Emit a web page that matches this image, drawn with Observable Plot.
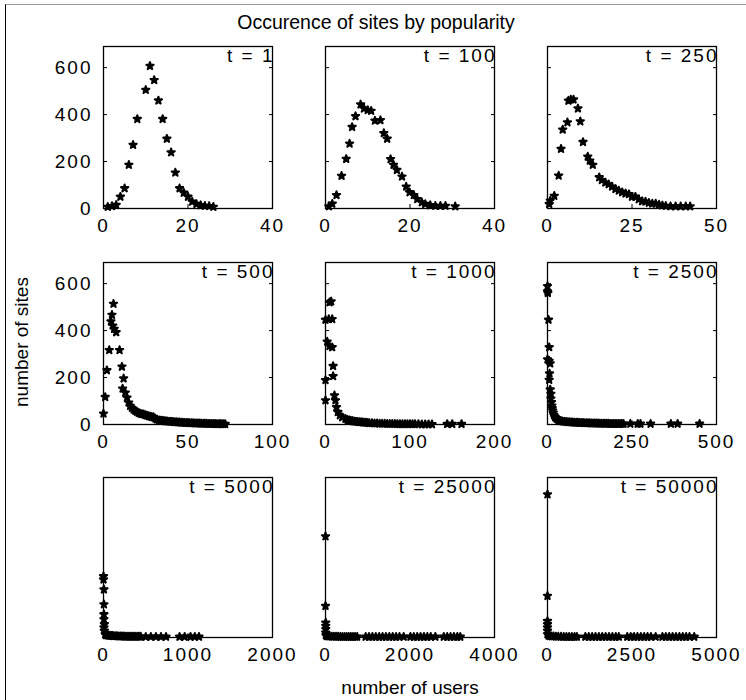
<!DOCTYPE html>
<html>
<head>
<meta charset="utf-8">
<script src="https://cdn.jsdelivr.net/npm/d3@7"></script>
<script src="https://cdn.jsdelivr.net/npm/@observablehq/plot@0.6"></script>
<style>
  html, body { margin: 0; padding: 0; background: white; }
  #root { position: relative; width: 746px; height: 700px; overflow: hidden; font-family: 'Liberation Sans', Arial, sans-serif; }
  #border { position: absolute; left: 5px; top: 4px; right: 0; bottom: 0; border-top: 1px solid #9a9a9a; border-left: 1px solid #000; }
  .lbl { position: absolute; color: #000; white-space: nowrap; }
  .panel { position: absolute; }
</style>
</head>
<body>
<div id="root"><div id="border"></div></div>
<script>
// ---- Texts ----
const chartTitle = "Occurence of sites by popularity";
const xAxisLabel = "number of users";
const yAxisLabel = "number of sites";
const panelLabels = ["t = 1", "t = 100", "t = 250", "t = 500", "t = 1000", "t = 2500", "t = 5000", "t = 25000", "t = 50000"];

// ---- Axes ----
const xDomains = [[0, 40], [0, 40], [0, 50], [0, 100], [0, 200], [0, 500], [0, 2000], [0, 4000], [0, 5000]];
const xTicks = [[0, 20, 40], [0, 20, 40], [0, 25, 50], [0, 50, 100], [0, 100, 200], [0, 250, 500], [0, 1000, 2000], [0, 2000, 4000], [0, 2500, 5000]];
const yDomain = [0, 690];
const yTicks = [0, 200, 400, 600];

// ---- Data: number of users (x) and number of sites (y) per panel ----
const usersT1 = [1, 2, 3, 4, 5, 6, 7, 8, 10, 11, 12, 13, 14, 15, 16, 17, 18, 19, 20, 21, 22, 23, 24, 25, 26];
const sitesT1 = [7, 10, 15, 50, 86, 186, 271, 381, 505, 607, 547, 460, 381, 297, 239, 153, 86, 67, 50, 29, 19, 14, 11, 10, 7];

const usersT100 = [0.8, 1.6, 2.6, 3.8, 4.9, 5.7, 6.3, 7.1, 8.3, 9.1, 10, 10.8, 11.7, 13, 13.8, 14.6, 15.4, 16.1, 16.9, 18.1, 19.1, 19.9, 20.9, 21.7, 22.8, 23.6, 24.8, 26, 27.2, 28.4, 30.7];
const sitesT100 = [9, 20, 57, 139, 211, 276, 347, 393, 443, 426, 419, 416, 374, 376, 321, 297, 210, 186, 164, 136, 93, 69, 57, 40, 26, 19, 14, 11, 11, 11, 9];

const usersT250 = [0.5, 0.8, 2, 3.3, 4, 4.5, 5.9, 6.2, 6.9, 7.7, 9, 9.7, 10.5, 11.9, 12.5, 13.4, 15.3, 16.1, 17.1, 18.1, 19.1, 20.1, 21.1, 22.1, 23.1, 24.1, 25, 26, 27, 28, 29, 30, 31, 32, 33, 34, 35, 36.4, 37.9, 39.4, 40.9, 42.2];
const sitesT250 = [19, 33, 54, 140, 254, 336, 367, 459, 464, 464, 426, 371, 283, 221, 204, 186, 133, 121, 110, 103, 93, 83, 76, 69, 64, 61, 50, 50, 39, 31, 29, 24, 21, 21, 16, 13, 11, 9, 9, 9, 9, 9];

const usersT500 = [0, 1, 2, 3.4, 4.4, 5, 5.9, 5.5, 6.3, 7.5, 9.5, 10.9, 11.9, 11.3, 12.9, 13.9, 14.9, 15.8, 16.8, 17.8, 18.8, 19.8, 20.8, 21.8, 22.8, 23.8, 24.8, 25.7, 26.7, 27.7, 28.7, 29.7, 30.7, 31.7, 33, 34, 35, 36, 37, 38, 39, 40, 41, 42, 43, 44, 45, 46, 47, 48, 49, 50, 51, 52, 53, 54, 55, 56, 57, 58, 59, 60, 61, 62, 63, 64, 65, 66, 67, 68, 69, 70, 71, 72];
const sitesT500 = [46, 117, 231, 317, 439, 467, 514, 421, 407, 393, 317, 246, 196, 153, 136, 114, 93, 79, 71, 64, 58, 54, 50, 46, 44, 43, 40, 38, 36, 34, 32, 31, 25, 21, 18, 17, 16, 15, 14, 13, 12, 12, 11, 10, 10, 9, 9, 8, 8, 7, 7, 7, 6, 6, 6, 5, 5, 5, 5, 4, 4, 4, 4, 3, 3, 3, 3, 3, 2, 2, 3, 2, 2, 2];

const usersT1000 = [0, 0, 0, 2, 3.9, 4.7, 4.7, 6.7, 7.9, 7.9, 9, 9, 10.6, 11.8, 13, 14.6, 17, 19.7, 23.6, 26, 28, 30, 32, 34, 36, 38, 40, 42, 44, 46, 48, 50, 52, 55, 58, 61, 64, 67, 70, 73, 76, 79, 82, 85, 88, 91, 94, 97, 100, 103, 106, 110, 114, 118, 122, 126, 144, 150, 161];
const sitesT1000 = [103, 189, 446, 353, 449, 520, 334, 524, 449, 329, 249, 206, 124, 103, 74, 53, 39, 31, 24, 20, 18, 16, 15, 13, 12, 11, 10, 10, 9, 8, 8, 7, 6, 6, 5, 5, 4, 4, 4, 3, 3, 3, 3, 2, 2, 2, 2, 2, 2, 2, 2, 2, 1, 1, 1, 1, 2, 2, 2];

const usersT2500 = [0, 0, 1, 3, 5, 0, 5, 8, 6, 5, 8, 10, 10, 12, 13, 14, 15, 17, 19, 22, 25, 28, 32, 36, 40, 45, 50, 55, 60, 65, 70, 75, 80, 85, 90, 95, 100, 105, 110, 115, 120, 125, 130, 135, 140, 145, 150, 155, 160, 165, 170, 175, 180, 185, 190, 195, 200, 205, 210, 215, 220, 225, 245, 267, 275, 305, 365, 385, 450];
const sitesT2500 = [589, 567, 560, 446, 329, 277, 271, 260, 217, 190, 149, 130, 110, 95, 80, 70, 60, 50, 40, 33, 28, 24, 20, 17, 15, 13, 12, 11, 10, 10, 9, 9, 8, 8, 8, 7, 7, 7, 6, 6, 6, 6, 5, 5, 5, 5, 5, 4, 4, 4, 4, 4, 4, 3, 3, 3, 3, 3, 3, 3, 3, 3, 3, 3, 3, 3, 3, 3, 3];

const usersT5000 = [0, 0, 5, 5, 5, 5, 10, 5, 10, 20, 30, 45, 60, 75, 90, 105, 120, 140, 160, 180, 200, 220, 240, 260, 280, 300, 320, 340, 360, 380, 400, 420, 440, 500, 560, 620, 680, 740, 900, 960, 1030, 1080, 1130];
const sitesT5000 = [264, 250, 207, 143, 100, 79, 57, 43, 29, 14, 10, 9, 8, 8, 7, 7, 6, 6, 6, 5, 5, 5, 5, 4, 4, 4, 4, 4, 4, 4, 4, 4, 4, 3, 3, 3, 3, 3, 3, 3, 3, 3, 3];

const usersT25000 = [0, 0, 5, 5, 5, 5, 10, 30, 60, 100, 150, 200, 250, 300, 350, 400, 450, 500, 550, 600, 650, 700, 750, 950, 1030, 1110, 1190, 1270, 1350, 1430, 1510, 1590, 1670, 1750, 1850, 2010, 2090, 2170, 2250, 2330, 2410, 2490, 2600, 2800, 2880, 2960, 3040, 3120, 3190];
const sitesT25000 = [436, 136, 64, 50, 36, 21, 10, 6, 5, 5, 4, 4, 4, 4, 3, 3, 3, 3, 3, 3, 3, 3, 3, 3, 3, 3, 3, 3, 3, 3, 3, 3, 3, 3, 3, 3, 3, 3, 3, 3, 3, 3, 3, 3, 3, 3, 3, 3, 3];

const usersT50000 = [0, 0, 0, 0, 0, 0, 0, 30, 70, 120, 180, 250, 320, 400, 480, 560, 640, 720, 800, 870, 1120, 1220, 1320, 1420, 1520, 1620, 1720, 1820, 1920, 2020, 2110, 2360, 2460, 2560, 2660, 2760, 2860, 2960, 3060, 3200, 3400, 3500, 3600, 3700, 3800, 3900, 4000, 4100, 4200, 4340];
const sitesT50000 = [617, 179, 71, 57, 43, 29, 14, 8, 6, 5, 5, 4, 4, 4, 3, 3, 3, 3, 3, 3, 3, 3, 3, 3, 3, 3, 3, 3, 3, 3, 3, 3, 3, 3, 3, 3, 3, 3, 3, 3, 3, 3, 3, 3, 3, 3, 3, 3, 3, 3];

const panelUsers = [usersT1, usersT100, usersT250, usersT500, usersT1000, usersT2500, usersT5000, usersT25000, usersT50000];
const panelSites = [sitesT1, sitesT100, sitesT250, sitesT500, sitesT1000, sitesT2500, sitesT5000, sitesT25000, sitesT50000];

// ---- Layout ----
const FONT = "'Liberation Sans', Arial, sans-serif";
const colLeft = [103, 325, 547];
const rowTop = [46, 262, 477];
const rowH = [162, 162, 160];
const frameW = 169;
const mL = 50, mR = 12, mT = 5, mB = 32;
const TICK = 4;

const root = document.getElementById("root");

function addLabel(text, style) {
  const d = document.createElement("div");
  d.className = "lbl";
  d.textContent = text;
  Object.assign(d.style, style);
  root.appendChild(d);
  return d;
}

addLabel(chartTitle, {left: "376px", top: "11px", transform: "translateX(-50%)", fontSize: "19.5px", fontFamily: FONT});
addLabel(xAxisLabel, {left: "410px", top: "677px", transform: "translateX(-50%)", fontSize: "19px", fontFamily: FONT});
addLabel(yAxisLabel, {left: "22px", top: "342px", transform: "translate(-50%, -50%) rotate(-90deg)", fontSize: "19px", fontFamily: FONT});

const blank = () => "";

for (let i = 0; i < 9; i++) {
  const row = Math.floor(i / 3), col = i % 3;
  const data = panelUsers[i].map((u, k) => ({users: u, sites: panelSites[i][k]}));
  const h = rowH[row];
  const marks = [
    Plot.frame({stroke: "black", strokeWidth: 1.3}),
    // x tick labels
    Plot.axisX({ticks: xTicks[i], tickSize: 0, tickPadding: 10, label: null, tickFormat: d => String(d)}),
    // inward tick marks at the bottom
    Plot.axisX({ticks: xTicks[i], tickSize: TICK, dy: -TICK, label: null, tickFormat: blank})
  ];
  if (row < 2) {
    marks.push(Plot.axisY({ticks: yTicks, tickSize: 0, tickPadding: 11, label: null, tickFormat: col === 0 ? (d => String(d)) : blank}));
    marks.push(Plot.axisY({ticks: yTicks, tickSize: TICK, dx: TICK, label: null, tickFormat: blank}));
    marks.push(Plot.axisY({anchor: "right", ticks: yTicks, tickSize: TICK, dx: -TICK, label: null, tickFormat: blank}));
  }
  marks.push(Plot.dot(data, {x: "users", y: "sites", symbol: "star", fill: "black", stroke: "black", strokeWidth: 2, strokeLinejoin: "round", r: 2.3}));
  marks.push(Plot.text([panelLabels[i]], {text: d => d, frameAnchor: "top-right", textAnchor: "end", lineAnchor: "top", dx: 2, dy: 2, fontSize: 19, fill: "black"}));

  const svg = Plot.plot({
    width: frameW + mL + mR,
    height: h + mT + mB,
    marginLeft: mL, marginRight: mR, marginTop: mT, marginBottom: mB,
    style: {fontFamily: FONT, fontSize: "19px", background: "transparent", overflow: "visible", letterSpacing: "2px", color: "black", maxWidth: "none"},
    x: {domain: xDomains[i]},
    y: {domain: yDomain, axis: row < 2 ? undefined : null},
    marks
  });
  svg.classList.add("panel");
  svg.style.left = (colLeft[col] - mL) + "px";
  svg.style.top = (rowTop[row] - mT) + "px";
  svg.style.position = "absolute";
  root.appendChild(svg);
}
</script>
</body>
</html>
